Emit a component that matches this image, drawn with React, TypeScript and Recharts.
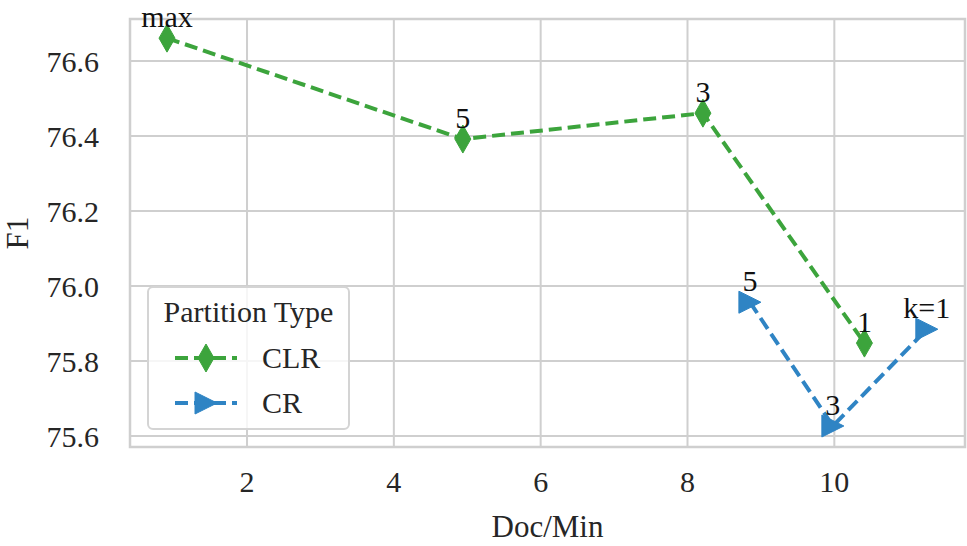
import {
  LineChart,
  Line,
  XAxis,
  YAxis,
  CartesianGrid,
  ReferenceArea,
  LabelList,
  Legend,
} from 'recharts'

// CLR partition: Doc/Min vs F1
const clrX = [0.91, 4.94, 8.21, 10.41]
const clrF1 = [76.661, 76.392, 76.461, 75.848]
const clrLabels = ['max', '5', '3', '1']

// CR partition
const crX = [8.85, 9.98, 11.26]
const crF1 = [75.957, 75.627, 75.885]
const crLabels = ['5', '3', 'k=1']

const xTicks = [2, 4, 6, 8, 10]
const yTicks = [75.6, 75.8, 76.0, 76.2, 76.4, 76.6]
const xDomain: [number, number] = [0.406, 11.78]
const yDomain: [number, number] = [75.571, 76.712]

const GREEN = '#3ca43c'
const BLUE = '#2f84c4'
const GRID = '#cfcfcf'
const FONT = '"Liberation Serif", "DejaVu Serif", serif'
const FS = 30

const clrData = clrX.map((x, i) => ({ x, y: clrF1[i], label: clrLabels[i] }))
const crData = crX.map((x, i) => ({ x, y: crF1[i], label: crLabels[i] }))

function Diamond({ cx, cy, fill }: { cx: number; cy: number; fill: string }) {
  return (
    <path
      d={`M${cx},${cy - 14} L${cx + 8},${cy} L${cx},${cy + 14} L${cx - 8},${cy} Z`}
      fill={fill}
      stroke={fill}
      strokeWidth={1}
    />
  )
}

function TriRight({ cx, cy, fill }: { cx: number; cy: number; fill: string }) {
  return (
    <path
      d={`M${cx + 11},${cy} L${cx - 11},${cy - 11} L${cx - 11},${cy + 11} Z`}
      fill={fill}
      stroke={fill}
      strokeWidth={1}
    />
  )
}

function LegendBox() {
  const row = (name: string, color: string, marker: 'd' | 't') => (
    <div style={{ display: 'flex', alignItems: 'center', height: 45 }}>
      <svg width={90} height={30} style={{ marginLeft: 22 }}>
        <line x1={4} y1={15} x2={66} y2={15} stroke={color} strokeWidth={4} strokeDasharray="13 6" />
        {marker === 'd' ? <Diamond cx={35} cy={15} fill={color} /> : <TriRight cx={35} cy={15} fill={color} />}
      </svg>
      <span style={{ marginLeft: 1, fontSize: FS, lineHeight: '30px' }}>{name}</span>
    </div>
  )
  return (
    <div
      style={{
        width: 199,
        height: 140,
        border: '2px solid #d4d4d4',
        borderRadius: 6,
        background: 'rgba(255,255,255,0.8)',
        fontFamily: FONT,
        color: '#262626',
        boxSizing: 'content-box',
      }}
    >
      <div style={{ textAlign: 'center', fontSize: FS, lineHeight: '30px', marginTop: 9, height: 38 }}>
        Partition Type
      </div>
      {row('CLR', GREEN, 'd')}
      {row('CR', BLUE, 't')}
    </div>
  )
}

export default function App() {
  return (
    <div
      style={{ position: 'absolute', left: 0, top: 0, width: 967, height: 546, background: '#fff', fontFamily: FONT }}
    >
      <style>{`.recharts-text, .recharts-label { font-family: ${FONT}; }`}</style>
      <LineChart width={967} height={546} margin={{ top: 19, right: 2, left: 0, bottom: 0 }}>
        <CartesianGrid stroke={GRID} strokeWidth={2} />
        <ReferenceArea
          x1={xDomain[0]}
          x2={xDomain[1]}
          y1={yDomain[0]}
          y2={yDomain[1]}
          fill="none"
          stroke={GRID}
          strokeWidth={2.5}
          ifOverflow="visible"
        />
        <XAxis
          type="number"
          dataKey="x"
          domain={xDomain}
          ticks={xTicks}
          allowDataOverflow
          height={99}
          axisLine={false}
          tickLine={false}
          tickMargin={18}
          tick={{ fill: '#262626', fontSize: FS, fontFamily: FONT }}
          label={{ value: 'Doc/Min', position: 'insideBottom', offset: 9, fill: '#262626', fontSize: 31, fontFamily: FONT }}
        />
        <YAxis
          type="number"
          domain={yDomain}
          ticks={yTicks}
          allowDataOverflow
          width={130}
          axisLine={false}
          tickLine={false}
          tickMargin={25}
          tickFormatter={(v: number) => v.toFixed(1)}
          tick={{ fill: '#262626', fontSize: FS, fontFamily: FONT }}
          label={{
            value: 'F1',
            angle: -90,
            position: 'insideLeft',
            offset: 17,
            fill: '#262626',
            fontSize: 31,
            fontFamily: FONT,
            style: { textAnchor: 'middle' },
          }}
        />
        <Legend
          layout="vertical"
          align="center"
          verticalAlign="middle"
          wrapperStyle={{ left: 147, top: 286, width: 'auto' }}
          content={() => <LegendBox />}
        />
        <Line
          data={clrData}
          dataKey="y"
          name="CLR"
          stroke={GREEN}
          strokeWidth={4}
          strokeDasharray="13 6"
          isAnimationActive={false}
          dot={(p: any) => <Diamond key={`c${p.index}`} cx={p.cx} cy={p.cy} fill={GREEN} />}
          activeDot={false}
        >
          <LabelList dataKey="label" position="top" offset={11} fill="#111" fontSize={FS} fontFamily={FONT} />
        </Line>
        <Line
          data={crData}
          dataKey="y"
          name="CR"
          stroke={BLUE}
          strokeWidth={4}
          strokeDasharray="13 6"
          isAnimationActive={false}
          dot={(p: any) => <TriRight key={`r${p.index}`} cx={p.cx} cy={p.cy} fill={BLUE} />}
          activeDot={false}
        >
          <LabelList dataKey="label" position="top" offset={11} fill="#111" fontSize={FS} fontFamily={FONT} />
        </Line>
      </LineChart>
    </div>
  )
}
